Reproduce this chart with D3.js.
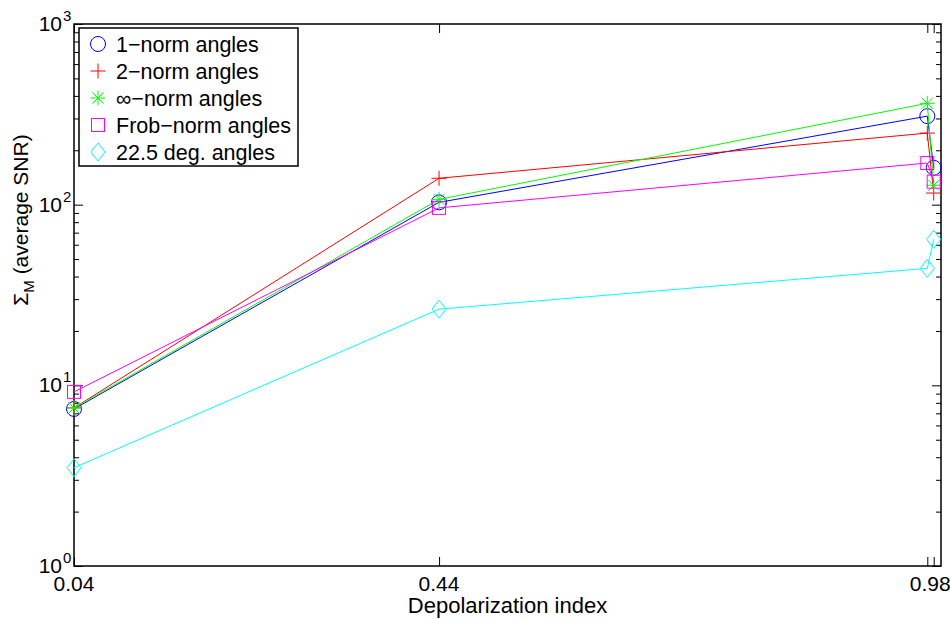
<!DOCTYPE html>
<html>
<head>
<meta charset="utf-8">
<script src="https://cdn.jsdelivr.net/npm/d3@7"></script>
<style>
  body { margin: 0; background: #fff; }
  text { font-family: "Liberation Sans", Arial, sans-serif; }
</style>
</head>
<body>
<svg width="950" height="619"></svg>
<script>
// depolarization index of the four samples
var depol = [0.04, 0.44, 0.975, 0.982];

var norm1 = [7.4, 103, 309, 160];
var norm2 = [7.5, 140, 249, 116];
var normInf = [7.5, 107, 364, 128];
var normFrob = [9.2, 96, 170, 134];
var deg225 = [3.5, 26.4, 44.4, 64.3];

var seriesNames = ["1\u2212norm angles", "2\u2212norm angles", "\u221e\u2212norm angles",
                   "Frob\u2212norm angles", "22.5 deg. angles"];
var seriesColors = ["#0000ff", "#ff0000", "#00ff00", "#ff00ff", "#00ffff"];
var seriesMarkers = ["circle", "plus", "star", "square", "diamond"];

var xTicks = [0.04, 0.44, 0.975, 0.982];
var xTickLabels = ["0.04", "0.44", "0.98", ""];
var yTicks = [1, 10, 100, 1000];
var yTickExp = ["0", "1", "2", "3"];

var svg = d3.select("svg"),
    margin = {top: 24, right: 9, bottom: 53, left: 74},
    width = +svg.attr("width"),
    height = +svg.attr("height");

var x = d3.scaleLinear()
    .domain([0.04, 0.99])
    .range([margin.left, width - margin.right]);
var y = d3.scaleLog()
    .domain([1, 1000])
    .range([height - margin.bottom, margin.top]);

var minors = [];
[1, 10, 100].forEach(function(d) {
  for (var k = 2; k <= 9; k++) minors.push(d * k);
});

// ticks, inward like matlab
function tickAxis(axis, t, vals, size) {
  var g = svg.append("g")
      .attr("transform", t)
      .call(axis.tickValues(vals).tickSize(-size).tickSizeOuter(0).tickFormat(""));
  g.select(".domain").remove();
  g.selectAll("line").attr("stroke", "#000").attr("stroke-width", 1);
  return g;
}
var x0 = x.range()[0], x1 = x.range()[1], y0 = y.range()[0], y1 = y.range()[1];
tickAxis(d3.axisBottom(x), "translate(0," + y0 + ")", xTicks, 9);
tickAxis(d3.axisTop(x), "translate(0," + y1 + ")", xTicks, 9);
tickAxis(d3.axisLeft(y), "translate(" + x0 + ",0)", yTicks, 9);
tickAxis(d3.axisRight(y), "translate(" + x1 + ",0)", yTicks, 9);
tickAxis(d3.axisLeft(y), "translate(" + x0 + ",0)", minors, 5);
tickAxis(d3.axisRight(y), "translate(" + x1 + ",0)", minors, 5);

// tick labels
svg.append("g").selectAll("text")
  .data(xTicks)
  .enter().append("text")
    .attr("x", function(d, i) { return x(d) + (i == 2 ? 3 : 0); })
    .attr("y", y0 + 25)
    .attr("text-anchor", "middle")
    .attr("font-size", 21)
    .text(function(d, i) { return xTickLabels[i]; });

svg.append("g").selectAll("text")
  .data(yTicks)
  .enter().append("text")
    .attr("x", x0 - 12)
    .attr("y", function(d) { return y(d) + 7; })
    .attr("text-anchor", "end")
    .attr("font-size", 21)
    .text("10");
svg.append("g").selectAll("text")
  .data(yTicks)
  .enter().append("text")
    .attr("x", x0 - 11)
    .attr("y", function(d) { return y(d) - 3; })
    .attr("font-size", 15)
    .text(function(d, i) { return yTickExp[i]; });

svg.append("rect")
    .attr("x", x0).attr("y", y1)
    .attr("width", x1 - x0).attr("height", y0 - y1)
    .attr("fill", "none").attr("stroke", "#000").attr("stroke-width", 1.5);

// axis titles
svg.append("text")
    .attr("x", (x0 + x1) / 2)
    .attr("y", 613)
    .attr("text-anchor", "middle")
    .attr("font-size", 22)
    .text("Depolarization index");

var yt = svg.append("text")
    .attr("transform", "translate(28,220) rotate(-90)")
    .attr("text-anchor", "middle")
    .attr("font-size", 21);
yt.append("tspan").text("\u03a3");
yt.append("tspan").attr("font-size", 15).attr("dy", 6).text("M");
yt.append("tspan").attr("dy", -6).text(" (average SNR)");

// markers
function marker(sel, type, color) {
  if (type == "circle") {
    sel.append("circle").attr("r", 7.5).attr("fill", "none").attr("stroke", color);
  } else if (type == "plus") {
    sel.append("path").attr("d", "M-7.5,0H7.5M0,-7.5V7.5").attr("stroke", color);
  } else if (type == "star") {
    sel.append("path").attr("d", "M-7.5,0H7.5M0,-7.5V7.5M-5.5,-5.5L5.5,5.5M-5.5,5.5L5.5,-5.5").attr("stroke", color);
  } else if (type == "square") {
    sel.append("rect").attr("x", -6.5).attr("y", -6.5).attr("width", 13).attr("height", 13)
      .attr("fill", "none").attr("stroke", color);
  } else {
    sel.append("path").attr("d", "M0,-9L7,0L0,9L-7,0Z").attr("fill", "none").attr("stroke", color);
  }
}

var allSeries = [norm1, norm2, normInf, normFrob, deg225];
var line = d3.line()
    .x(function(d, i) { return x(depol[i]); })
    .y(function(d) { return y(d); });

allSeries.forEach(function(vals, s) {
  var g = svg.append("g");
  g.append("path")
      .datum(vals)
      .attr("fill", "none")
      .attr("stroke", seriesColors[s])
      .attr("stroke-width", 1)
      .attr("d", line);
  g.selectAll(".pt")
    .data(vals)
    .enter().append("g")
      .attr("class", "pt")
      .attr("transform", function(d, i) { return "translate(" + x(depol[i]) + "," + y(d) + ")"; })
      .each(function() { marker(d3.select(this), seriesMarkers[s], seriesColors[s]); });
});

// legend
var lg = svg.append("g");
lg.append("rect")
    .attr("x", 79).attr("y", 28).attr("width", 219).attr("height", 138)
    .attr("fill", "#fff").attr("stroke", "#000").attr("stroke-width", 1.5);
seriesNames.forEach(function(name, s) {
  var row = lg.append("g").attr("transform", "translate(98," + (44 + s * 27) + ")");
  marker(row, seriesMarkers[s], seriesColors[s]);
  row.append("text")
      .attr("x", 18).attr("y", 7.5)
      .attr("font-size", 21.5)
      .text(name);
});
</script>
</body>
</html>
